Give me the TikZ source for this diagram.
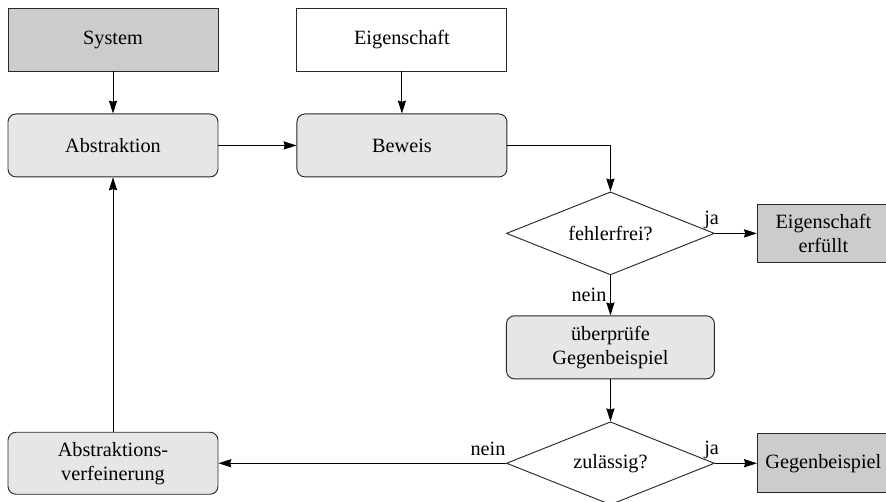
\documentclass[tikz,border=0pt]{standalone}
\usepackage{fontspec}
\setmainfont{Liberation Serif}
\usetikzlibrary{positioning, arrows.meta, shapes.geometric, calc}
\definecolor{boxline}{RGB}{40, 40, 40}
\definecolor{darkfill}{RGB}{204, 204, 204}
\definecolor{lightfill}{RGB}{230, 230, 230}
\tikzset{
  inputBox/.style={
    draw=boxline,
    line width=0.8pt,
    rectangle,
    minimum width=6.3cm,
    minimum height=1.89cm,
    align=center,
    font=\fontsize{17.3}{20.5}\selectfont
  },
  stepBox/.style={
    inputBox,
    rounded corners=0.24cm,
    fill=lightfill
  },
  resultBox/.style={
    inputBox,
    fill=darkfill,
    minimum width=3.96cm,
    minimum height=1.76cm
  },
  decisionNode/.style={
    draw=boxline,
    line width=0.8pt,
    diamond,
    aspect=2.5,
    minimum width=6.24cm,
    minimum height=2.49cm,
    inner sep=0pt,
    font=\fontsize{17.3}{20.5}\selectfont
  },
  flowLabel/.style={
    font=\fontsize{17.3}{20.5}\selectfont
  },
  every edge/.style={
    draw,
    -{Stealth[length=11pt, width=7pt, inset=1pt]},
    line width=0.8pt
  }
}

\begin{document}
\begin{tikzpicture}
      \useasboundingbox (0,0) rectangle (26.58,-15.03);

      % inputs and the abstraction loop
      \node[inputBox, fill=darkfill] (system) at (3.39,-1.185) {System};
      \node[inputBox, right=2.34cm of system] (eigenschaft) {Eigenschaft};
      \node[stepBox, below=1.26cm of system] (abstraktion) {Abstraktion};
      \node[stepBox, below=1.26cm of eigenschaft] (beweis) {Beweis};

      % checks
      \node[decisionNode, below=0.42cm of beweis, xshift=6.255cm] (fehlerfrei) {fehlerfrei?};
      \node[resultBox, right=1.26cm of fehlerfrei] (erfuellt) {Eigenschaft\\erfüllt};
      \node[stepBox, minimum width=6.24cm, below=1.2cm of fehlerfrei] (pruefe) {überprüfe\\Gegenbeispiel};
      \node[decisionNode, below=1.26cm of pruefe] (zulaessig) {zulässig?};
      \node[resultBox, right=1.26cm of zulaessig] (gegenbeispiel) {Gegenbeispiel};
      \node[stepBox, minimum height=1.86cm] (verfeinerung) at (abstraktion |- zulaessig) {Abstraktions-\\verfeinerung};

      \path
      (system) edge (abstraktion)
      (eigenschaft) edge (beweis)
      (abstraktion) edge (beweis)
      (fehlerfrei) edge node[flowLabel, pos=0, above, xshift=-0.1cm] {ja} (erfuellt)
                   edge node[flowLabel, left, inner sep=3pt] {nein} (pruefe)
      (pruefe) edge (zulaessig)
      (zulaessig) edge node[flowLabel, pos=0, above, xshift=-0.1cm] {ja} (gegenbeispiel)
                  edge node[flowLabel, pos=0, anchor=south east, inner xsep=0pt, inner ysep=6pt] {nein} (verfeinerung)
      (verfeinerung) edge (abstraktion);

      \draw[-{Stealth[length=11pt, width=7pt, inset=1pt]}, line width=0.8pt] (beweis.east) -| (fehlerfrei.north);
    \end{tikzpicture}
\end{document}
